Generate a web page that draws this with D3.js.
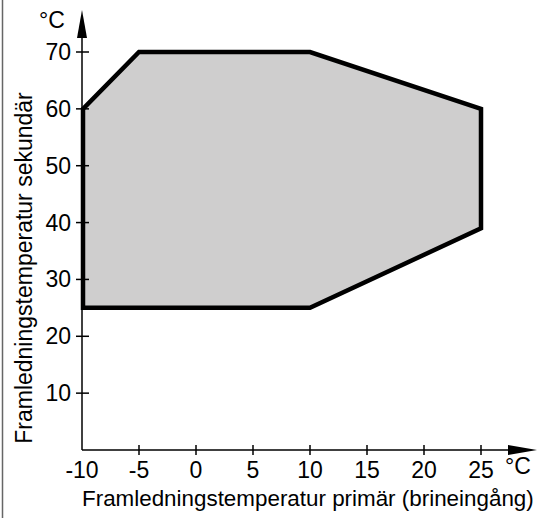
<!DOCTYPE html>
<html>
<head>
<meta charset="utf-8">
<script src="https://cdn.jsdelivr.net/npm/d3@7"></script>
<style>
  body { margin: 0; background: #fff; }
  svg { display: block; font-family: "Liberation Sans", Arial, sans-serif; }
</style>
</head>
<body>
<svg id="chart"></svg>
<script>
const width = 539;
const height = 518;

// arbetsområde (primär, sekundär)
const primary = [-10, -10, -5, 10, 25, 25, 10];
const secondary = [25, 60, 70, 70, 60, 39, 25];

const xTicks = [-5, 0, 5, 10, 15, 20, 25];
const xTickLabels = ["-10", "-5", "0", "5", "10", "15", "20", "25"];
const yTicks = [10, 20, 30, 40, 50, 60, 70];

const xTitle = "Framledningstemperatur primär (brineingång)";
const yTitle = "Framledningstemperatur sekundär";

const svg = d3.select("#chart").attr("width", width).attr("height", height);

const x = d3.scaleLinear().domain([-10, 25]).range([82, 481]);
const y = d3.scaleLinear().domain([0, 70]).range([450, 52]);

// ram till vänster
svg.append("line")
    .attr("x1", 2.5).attr("x2", 2.5)
    .attr("y1", 0).attr("y2", height)
    .attr("stroke", "#666").attr("stroke-width", 1.5);

// område
const pts = primary.map((p, i) => [x(p) + (p === -10 ? 1 : 0), y(secondary[i])]);
svg.append("path")
    .attr("d", d3.line()(pts) + "Z")
    .attr("fill", "#cfcece")
    .attr("stroke", "#000")
    .attr("stroke-width", 4.5)
    .attr("stroke-linejoin", "miter");

// axlar
const axes = svg.append("g").attr("stroke", "#000").attr("stroke-width", 1.5);
axes.append("line")
    .attr("x1", x(-10)).attr("x2", 510)
    .attr("y1", y(0)).attr("y2", y(0));
axes.append("line")
    .attr("x1", x(-10)).attr("x2", x(-10))
    .attr("y1", y(0)).attr("y2", 36);

svg.append("path")
    .attr("d", `M508,${y(0) - 5}L537,${y(0)}L508,${y(0) + 5}Z`)
    .attr("fill", "#000");
svg.append("path")
    .attr("d", `M${x(-10) - 5},38L${x(-10)},10L${x(-10) + 5},38Z`)
    .attr("fill", "#000");

axes.selectAll(".xt")
    .data(xTicks)
    .enter().append("line")
    .attr("x1", d => x(d)).attr("x2", d => x(d))
    .attr("y1", y(0) - 5).attr("y2", y(0) + 5);

axes.selectAll(".yt")
    .data(yTicks)
    .enter().append("line")
    .attr("x1", x(-10) - 6).attr("x2", x(-10) + 7)
    .attr("y1", d => y(d)).attr("y2", d => y(d));

// tick-etiketter
svg.append("g")
    .selectAll("text")
    .data(xTickLabels)
    .enter().append("text")
    .attr("x", d => x(+d))
    .attr("y", 478)
    .attr("text-anchor", "middle")
    .style("font-size", "23px")
    .text(d => d);

svg.append("g")
    .selectAll("text")
    .data(yTicks)
    .enter().append("text")
    .attr("x", 71)
    .attr("y", d => y(d) + 8)
    .attr("text-anchor", "end")
    .style("font-size", "23px")
    .text(d => d);

// enheter
svg.append("text").attr("x", 39).attr("y", 28).style("font-size", "23px").text("°C");
svg.append("text").attr("x", 505).attr("y", 474).style("font-size", "23px").text("°C");

// titlar
svg.append("text")
    .attr("x", 82).attr("y", 506)
    .style("font-size", "22.4px")
    .text(xTitle);

svg.append("text")
    .attr("transform", "translate(32,268) rotate(-90)")
    .attr("text-anchor", "middle")
    .style("font-size", "23px")
    .text(yTitle);
</script>
</body>
</html>
